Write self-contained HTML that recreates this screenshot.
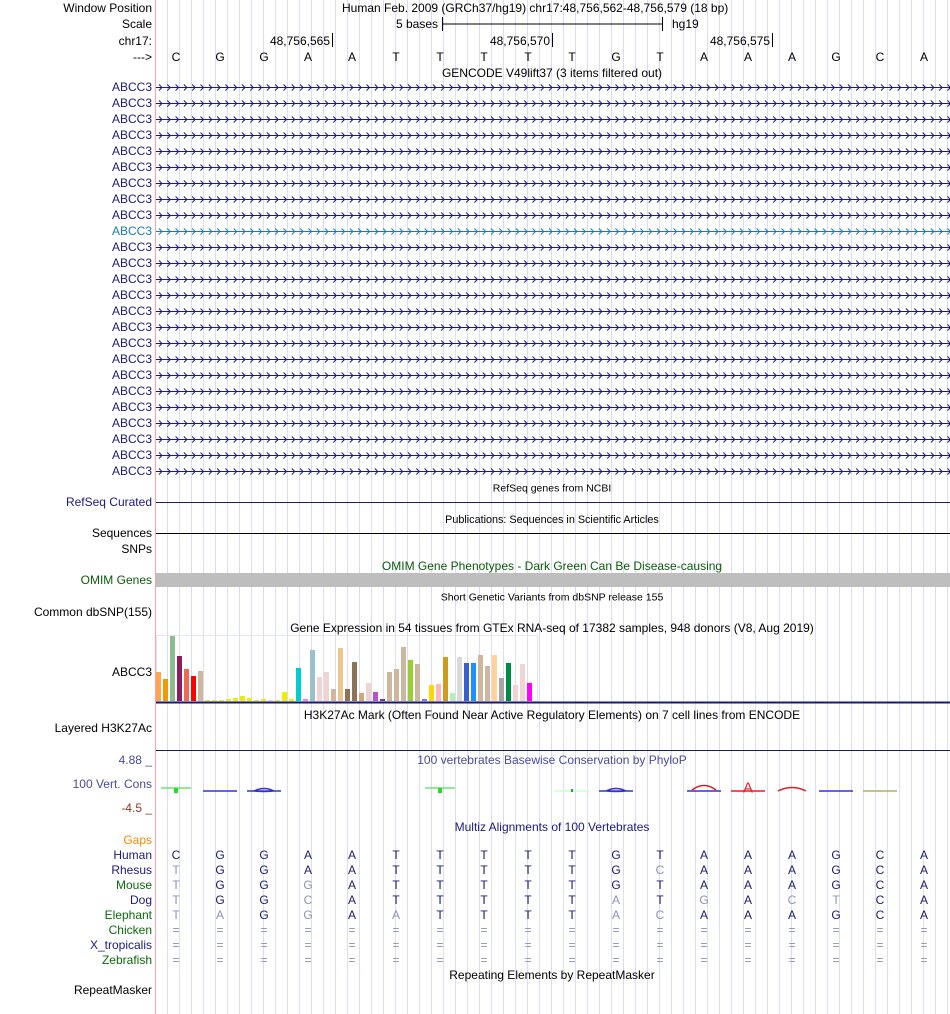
<!DOCTYPE html>
<html><head><meta charset="utf-8"><style>
html,body{margin:0;padding:0;background:#fff;}
svg{display:block;font-family:"Liberation Sans",sans-serif;}
</style></head><body>
<svg id="g" width="950" height="1014" viewBox="0 0 950 1014">
<g id="grid"></g>
<line x1="155.5" y1="0" x2="155.5" y2="1014" stroke="#f4a6a6"/>
<g id="labels" font-size="12" text-anchor="end"></g>
<g id="content"></g>
<g id="gtex"></g>
</svg>
<script>
const NS="http://www.w3.org/2000/svg";
const svg=document.getElementById('g');
function mk(tag,attrs,parent,text){const e=document.createElementNS(NS,tag);for(const k in attrs)e.setAttribute(k,attrs[k]);if(text!==undefined)e.textContent=text;(parent||svg).appendChild(e);return e;}
const grid=document.getElementById('grid');
for(let x=167;x<950;x+=12){mk('line',{x1:x+.5,y1:0,x2:x+.5,y2:1014,stroke:'#dcdcf4'},grid);}
const L=document.getElementById('labels');
function lab(t,y,c,name){const e=mk('text',{x:152,y:y+4,fill:c||'#000'},L,t);

}
const C=document.getElementById('content');
function txt(t,x,y,size,c,anchor,name){const e=mk('text',{x:x,y:y+size*0.35,'font-size':size,fill:c||'#000','text-anchor':anchor||'middle'},C,t);

return e;}
lab('Window Position',8,'#000','window-position-label');
lab('Scale',24,'#000','scale-label');
lab('chr17:',41,'#000','chr-label');
lab('--->',57,'#000','strand-label');
txt('Human Feb. 2009 (GRCh37/hg19)   chr17:48,756,562-48,756,579 (18 bp)',342,8,12,'#000','start','position-title').setAttribute('xml:space','preserve');
txt('5 bases',438,24,12,'#000','end','scale-text');
mk('line',{x1:442,y1:24,x2:662,y2:24,stroke:'#000'},C);
mk('line',{x1:442.5,y1:17,x2:442.5,y2:31,stroke:'#000'},C);
mk('line',{x1:662.5,y1:17,x2:662.5,y2:31,stroke:'#000'},C);
txt('hg19',672,24,12,'#000','start','assembly-text');
const coords=['48,756,565','48,756,570','48,756,575'];
coords.forEach((c,i)=>{const x=330+i*220;txt(c,x,41,12,'#000','end','coord-'+i);mk('line',{x1:x+2.5,y1:33,x2:x+2.5,y2:47,stroke:'#000'},C);});
const bases=['C','G','G','A','A','T','T','T','T','T','G','T','A','A','A','G','C','A'];
const bx=i=>176+i*44;
bases.forEach((b,i)=>txt(b,bx(i),57,12,'#000','middle','base-'+i));
txt('GENCODE V49lift37 (3 items filtered out)',552,73,12,'#000','middle','gencode-title');
for(let k=0;k<25;k++){const y=87+16*k;const hi=k===9;const col=hi?'#1a7ab8':'#1a1a80';
lab('ABCC3',y,col,'gene-label-'+k);
mk('line',{x1:156,y1:y+.5,x2:950,y2:y+.5,stroke:col},C);
let d='';for(let x=159;x<948;x+=8.3){d+=`M${x.toFixed(1)},${y-2.5} L${(x+3).toFixed(1)},${y+.5} L${x.toFixed(1)},${y+3.5} `;}
mk('path',{d:d,fill:'none',stroke:col,'stroke-width':1},C);}
txt('RefSeq genes from NCBI',552,488,10.5,'#000','middle','refseq-title');
lab('RefSeq Curated',502,'#1a1a80','refseq-label');
mk('line',{x1:156,y1:502.5,x2:950,y2:502.5,stroke:'#1a1a80'},C);
txt('Publications: Sequences in Scientific Articles',552,519,10.8,'#000','middle','publications-title');
lab('Sequences',533,'#000','sequences-label');
mk('line',{x1:156,y1:533.5,x2:950,y2:533.5,stroke:'#000'},C);
lab('SNPs',549,'#000','snps-label');
txt('OMIM Gene Phenotypes - Dark Green Can Be Disease-causing',552,566,12,'#0b5a0b','middle','omim-title');
lab('OMIM Genes',580,'#0b5a0b','omim-label');
mk('rect',{x:156,y:573,width:794,height:14,fill:'#bebebe'},C);
txt('Short Genetic Variants from dbSNP release 155',552,597,10.5,'#000','middle','dbsnp-title');
lab('Common dbSNP(155)',612,'#000','dbsnp-label');
txt('Gene Expression in 54 tissues from GTEx RNA-seq of 17382 samples, 948 donors (V8, Aug 2019)',552,628,12,'#000','middle','gtex-title');
lab('ABCC3',672,'#000','gtex-gene-label');
txt('H3K27Ac Mark (Often Found Near Active Regulatory Elements) on 7 cell lines from ENCODE',552,715,12,'#000','middle','h3k27ac-title');
lab('Layered H3K27Ac',728,'#000','h3k27ac-label');
mk('line',{x1:156,y1:750.5,x2:950,y2:750.5,stroke:'#1a1a60'},C);
lab('4.88 _',760,'#4a4a9a','phylop-max-label');
txt('100 vertebrates Basewise Conservation by PhyloP',552,760,12,'#4a4aa0','middle','phylop-title');
lab('100 Vert. Cons',784,'#4a4a9a','phylop-label');
lab('-4.5 _',808,'#8a3a2a','phylop-min-label');
function tee(x,c){mk('line',{x1:x-15,y1:788,x2:x+15,y2:788,stroke:c},C);mk('rect',{x:x-2,y:788,width:4,height:5,fill:c},C);}
tee(bx(0),'#22dd22');tee(bx(6),'#22dd22');
function dash(i,c){mk('line',{x1:bx(i)-17,y1:791,x2:bx(i)+17,y2:791,stroke:c,'stroke-width':1.5},C);}
dash(1,'#3333cc');dash(9,'#ccffcc');dash(15,'#3333cc');dash(16,'#b0b060');
function oval(i,c){mk('path',{d:`M${bx(i)-17},791 L${bx(i)+17},791 M${bx(i)-10},791 Q${bx(i)},786 ${bx(i)+10},791 Q${bx(i)},792 ${bx(i)-10},791`,fill:'none',stroke:c,'stroke-width':1.5},C);}
oval(2,'#3333cc');oval(10,'#3333cc');
mk('path',{d:`M${bx(12)-17},791 L${bx(12)+17},791`,stroke:'#3333cc','stroke-width':1.5},C);
mk('path',{d:`M${bx(12)-12},790 Q${bx(12)},781 ${bx(12)+12},790`,fill:'none',stroke:'#e02020','stroke-width':1.5},C);
txt('A',bx(13),787,15,'#e02020','middle','phylop-peak');
mk('line',{x1:bx(13)-17,y1:791,x2:bx(13)+17,y2:791,stroke:'#e02020','stroke-width':1.5},C);
mk('path',{d:`M${bx(14)-14},791 Q${bx(14)},784 ${bx(14)+14},791`,fill:'none',stroke:'#e02020','stroke-width':1.5},C);
mk('rect',{x:bx(9)-1,y:789,width:2,height:3,fill:'#22aa22'},C);
txt('Multiz Alignments of 100 Vertebrates',552,827,12,'#1a1a80','middle','multiz-title');
lab('Gaps',840,'#f08c00','gaps-label');
const species=['Human','Rhesus','Mouse','Dog','Elephant','Chicken','X_tropicalis','Zebrafish'];
const spColor=['#1a1a80','#1a1a80','#0b6a0b','#1a1a80','#0b6a0b','#0b6a0b','#1a1a80','#0b6a0b'];
const aln=['CGGAATTTTTGTAAAGCA','TGGAATTTTTGCAAAGCA','TGGGATTTTTGTAAAGCA','TGGCATTTTTATGACTCA','TAGGAATTTTACAAAGCA','==================','==================','=================='];
species.forEach((s,r)=>{const y=855+15*r;lab(s,y,spColor[r],'species-'+s.toLowerCase());
for(let i=0;i<18;i++){const ch=aln[r][i];const same=r===0||ch===bases[i];
txt(ch,bx(i),y,12,same&&ch!=='='?'#1a1a70':'#9090b8','middle','aln-'+r+'-'+i);}});
txt('Repeating Elements by RepeatMasker',552,975,12,'#000','middle','repeatmasker-title');
lab('RepeatMasker',990,'#000','repeatmasker-label');
</script>
<script>
const tissueIndex=[1,2,3,4,5,6,7,8,9,10,11,12,13,14,15,16,17,18,19,20,21,22,23,24,25,26,27,28,29,30,31,32,33,34,35,36,37,38,39,40,41,42,43,44,45,46,47,48,49,50,51,52,53,54];
const tpm=[29,22,65,45,32,25,30,1,1,1,2,3,5,3,1,2,0.5,1,9,2,33,2,51,24,29,12,53,12,39,8,18,9,2,29,32,54,41,37,2,16,17,44,8,44,38,38,46,35,46,23,38,16,37,18];
const tissueColors=['#FFA54F','#EE9A00','#8FBC8F','#8B1C62','#EE6A50','#FF0000','#CDB79E','#EEEE00','#EEEE00','#EEEE00','#EEEE00','#EEEE00','#EEEE00','#EEEE00','#EEEE00','#EEEE00','#AAAAAA','#EEEE00','#EEEE00','#EEEE00','#00CDCD','#EE82EE','#9AC0CD','#EED5D2','#EED5D2','#CDB79E','#EEC591','#8B7355','#8B7355','#CDAA7D','#EED5D2','#B452CD','#7A378B','#CDB79E','#CDB79E','#CDB79E','#9ACD32','#CDB79E','#7777FF','#FFD700','#FFB6C1','#CD9B1D','#B4EEB4','#D9D9D9','#3A5FCD','#1E90FF','#CDB79E','#CDB79E','#FFD39B','#A6A6A6','#008B45','#EED5D2','#EED5D2','#FF00FF'];
const G=document.getElementById('gtex');
const maxV=65,base=701,hpx=65;
const xs=i=>156+i*7;
const ys=v=>base-v/maxV*hpx;
const box=document.createElementNS("http://www.w3.org/2000/svg",'rect');
box.setAttribute('x',156.5);box.setAttribute('y',635.5);box.setAttribute('width',381);box.setAttribute('height',66);box.setAttribute('fill','none');box.setAttribute('stroke','#e4e4f4');
G.appendChild(box);
tpm.forEach((v,i)=>{const r=document.createElementNS("http://www.w3.org/2000/svg",'rect');
r.setAttribute('x',xs(i));r.setAttribute('y',ys(v));r.setAttribute('width',5);r.setAttribute('height',Math.max(base-ys(v),0.5));r.setAttribute('fill',tissueColors[i]);


G.appendChild(r);});
const bl=document.createElementNS("http://www.w3.org/2000/svg",'rect');
bl.setAttribute('x',156);bl.setAttribute('y',701.5);bl.setAttribute('width',794);bl.setAttribute('height',2);bl.setAttribute('fill','#1a1a70');


G.appendChild(bl);
</script>
</body></html>
